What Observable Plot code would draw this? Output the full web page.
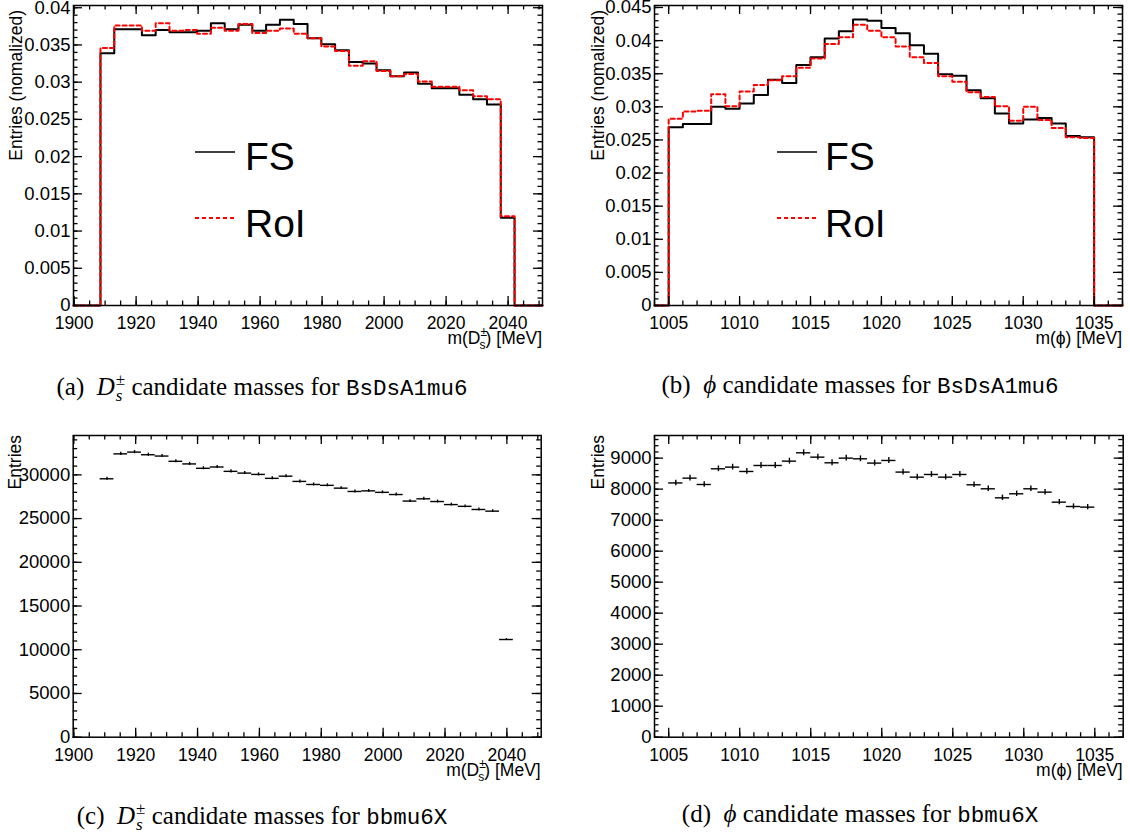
<!DOCTYPE html>
<html><head><meta charset="utf-8">
<script src="https://cdn.jsdelivr.net/npm/d3@7"></script>
<script src="https://cdn.jsdelivr.net/npm/@observablehq/plot@0.6"></script>
<style>
body{margin:0;background:#fff;}
#page{position:relative;width:1130px;height:840px;background:#fff;overflow:hidden;}
.panel{position:absolute;}
.cap{position:absolute;font-family:"Liberation Serif","Times New Roman",serif;font-size:25px;line-height:25px;white-space:nowrap;transform:translateX(-50%);color:#000;}
.mono{font-family:"Liberation Mono","DejaVu Sans Mono",monospace;font-size:22.5px;}
.ss{display:inline-block;vertical-align:-0.38em;font-size:0.68em;line-height:0.95;text-align:left;margin-left:1px;}
.ss span{display:block;}
</style></head>
<body><div id="page"></div>
<script>
// ---------------- data ----------------
const dsRange = [1899.8, 2051.1];
const dsBinLow = 1908.5;
const dsBinWidth = 4.453;
const phiRange = [1004, 1037];
const phiBinLow = 1005;
const phiBinWidth = 1;

// (a) D_s mass, normalized, BsDsA1mu6
const dsFS = [0.0339,0.0371,0.0371,0.0363,0.0370,0.0367,0.0367,0.0369,0.0379,0.0371,
              0.0377,0.0369,0.0377,0.0384,0.0378,0.0359,0.0351,0.0343,0.0327,0.0325,
              0.0316,0.0308,0.0313,0.0298,0.0292,0.0292,0.0283,0.0277,0.0270,0.0118];
const dsRoI = [0.0346,0.0376,0.0376,0.0369,0.0379,0.0369,0.0370,0.0365,0.0373,0.0369,
               0.0378,0.0366,0.0369,0.0372,0.0365,0.0359,0.0348,0.0342,0.0322,0.0328,
               0.0315,0.0308,0.0311,0.0301,0.0294,0.0294,0.0289,0.0281,0.0277,0.0120];
// (b) phi mass, normalized, BsDsA1mu6
const phiFS = [0.0269,0.0274,0.0274,0.0300,0.0297,0.0305,0.0318,0.0341,0.0336,0.0363,
               0.0375,0.0403,0.0414,0.0432,0.0430,0.0419,0.0411,0.0393,0.0380,0.0349,
               0.0347,0.0325,0.0313,0.0290,0.0275,0.0281,0.0283,0.0275,0.0256,0.0254];
const phiRoI = [0.0282,0.0293,0.0294,0.0319,0.0301,0.0323,0.0333,0.0340,0.0346,0.0359,
                0.0373,0.0395,0.0405,0.0424,0.0415,0.0405,0.0391,0.0375,0.0366,0.0346,
                0.0338,0.0322,0.0315,0.0301,0.0279,0.0300,0.0280,0.0268,0.0254,0.0253];
// (c) D_s mass, entries, bbmu6X
const dsEntries = [29550,32400,32600,32300,32150,31550,31250,30750,30900,30400,
                   30200,30050,29600,29850,29250,28900,28800,28480,28100,28170,
                   28000,27750,27000,27260,26950,26600,26400,26040,25850,11170];
// (d) phi mass, entries, bbmu6X
const phiEntries = [8200,8355,8150,8656,8710,8570,8763,8763,8903,9172,
                    9032,8850,9000,8978,8840,8925,8550,8387,8473,8387,
                    8473,8140,8011,7720,7850,8011,7903,7580,7440,7420];

// tick labels
const dsTicks = [1900,1920,1940,1960,1980,2000,2020,2040];
const phiTicks = [1005,1010,1015,1020,1025,1030,1035];
const normTicksA = [0,0.005,0.01,0.015,0.02,0.025,0.03,0.035,0.04];
const normTicksB = [0,0.005,0.01,0.015,0.02,0.025,0.03,0.035,0.04,0.045];
const dsCountTicks = [0,5000,10000,15000,20000,25000,30000];
const phiCountTicks = [0,1000,2000,3000,4000,5000,6000,7000,8000,9000];

const fontSans = '"Liberation Sans", Arial, Helvetica, sans-serif';

// ---------------- helpers ----------------
function stepPoints(lo, w, vals, dom) {
  const pts = [{x: dom[0], y: 0}];
  vals.forEach((v, i) => pts.push({x: lo + i * w, y: v}));
  pts.push({x: lo + vals.length * w, y: 0});
  pts.push({x: dom[1], y: 0});
  return pts;
}
function binRows(lo, w, vals) {
  return vals.map((v, i) => ({x1: lo + i * w, x2: lo + (i + 1) * w, xc: lo + (i + 0.5) * w, y: v, e: Math.sqrt(v)}));
}
function inRange(arr, dom) { return arr.filter(d => d >= dom[0] - 1e-9 && d <= dom[1] + 1e-9); }

function makePanel(o) {
  const fw = o.width - o.mL - o.mR, fh = o.height - o.mT - o.mB;
  const maj = 9, min = 4.5, sw = 1.3;
  const yMaj = inRange(o.yMajor, o.yDomain), yMin = inRange(o.yMinor, o.yDomain);
  const xMaj = inRange(o.xMajor, o.xDomain), xMin = inRange(o.xMinor, o.xDomain);
  const ticks = [
    Plot.tickY(yMaj, {y: d => d, insetRight: fw - maj, stroke: "black", strokeWidth: sw}),
    Plot.tickY(yMaj, {y: d => d, insetLeft: fw - maj, stroke: "black", strokeWidth: sw}),
    Plot.tickY(yMin, {y: d => d, insetRight: fw - min, stroke: "black", strokeWidth: sw}),
    Plot.tickY(yMin, {y: d => d, insetLeft: fw - min, stroke: "black", strokeWidth: sw}),
    Plot.tickX(xMaj, {x: d => d, insetTop: fh - maj, stroke: "black", strokeWidth: sw}),
    Plot.tickX(xMaj, {x: d => d, insetBottom: fh - maj, stroke: "black", strokeWidth: sw}),
    Plot.tickX(xMin, {x: d => d, insetTop: fh - min, stroke: "black", strokeWidth: sw}),
    Plot.tickX(xMin, {x: d => d, insetBottom: fh - min, stroke: "black", strokeWidth: sw})
  ];
  const fmt = d3.format("~g");
  const svg = Plot.plot({
    width: o.width, height: o.height,
    marginLeft: o.mL, marginTop: o.mT, marginRight: o.mR, marginBottom: o.mB,
    x: {domain: o.xDomain},
    y: {domain: o.yDomain},
    style: {fontFamily: fontSans, fontSize: "17px", color: "black", background: "white", overflow: "visible"},
    marks: [
      ...o.marks,
      ...ticks,
      Plot.frame({stroke: "black", strokeWidth: 1.5}),
      Plot.axisY(yMaj, {tickSize: 0, tickPadding: 3, tickFormat: fmt, label: null, fill: "black", fontSize: 18.5}),
      Plot.axisX(xMaj, {tickSize: 0, tickPadding: 11, tickFormat: d => String(d), label: null, fill: "black", fontSize: 17.5})
    ]
  });
  return svg;
}

function place(svg, left, top, w, h) {
  const div = document.createElement("div");
  div.className = "panel";
  div.style.left = left + "px"; div.style.top = top + "px";
  div.style.width = w + "px"; div.style.height = h + "px";
  div.appendChild(svg);
  document.getElementById("page").appendChild(div);
  return d3.select(svg);
}

function yTitle(sel, x, yEnd, text) {
  sel.append("text").attr("transform", `translate(${x},${yEnd}) rotate(-90)`)
    .attr("text-anchor", "end").attr("font-family", fontSans).attr("font-size", 17.5)
    .attr("fill", "black").text(text);
}
function xTitleDs(sel, xRight, yBase) {
  const t = sel.append("text").attr("x", xRight).attr("y", yBase).attr("text-anchor", "end")
    .attr("font-family", fontSans).attr("font-size", 17.5).attr("fill", "black");
  t.append("tspan").text("m(D");
  t.append("tspan").attr("font-size", 12).attr("dy", -8).text("±");
  t.append("tspan").attr("font-size", 12).attr("dx", -7.5).attr("dy", 13).text("s");
  t.append("tspan").attr("dy", -5).text(") [MeV]");
}
function xTitlePhi(sel, xRight, yBase) {
  sel.append("text").attr("x", xRight).attr("y", yBase).attr("text-anchor", "end")
    .attr("font-family", fontSans).attr("font-size", 17.5).attr("fill", "black").text("m(ϕ) [MeV]");
}
function legend(sel, x0, x1, xt) {
  sel.append("line").attr("x1", x0).attr("x2", x1).attr("y1", 152).attr("y2", 152)
    .attr("stroke", "black").attr("stroke-width", 1.5);
  sel.append("line").attr("x1", x0).attr("x2", x1).attr("y1", 218).attr("y2", 218)
    .attr("stroke", "#ff0000").attr("stroke-width", 1.8).attr("stroke-dasharray", "4,3");
  sel.append("text").attr("x", xt).attr("y", 170).attr("text-anchor", "start").attr("font-family", fontSans).attr("font-size", 39).attr("fill", "black").text("FS");
  sel.append("text").attr("x", xt).attr("y", 236.5).attr("text-anchor", "start").attr("font-family", fontSans).attr("font-size", 39).attr("fill", "black").text("RoI");
}

function histMarks(lo, w, fs, roi, dom) {
  return [
    Plot.line(stepPoints(lo, w, fs, dom), {x: "x", y: "y", curve: "step-after", stroke: "black", strokeWidth: 2}),
    Plot.line(stepPoints(lo, w, roi, dom), {x: "x", y: "y", curve: "step-after", stroke: "#ff0000", strokeWidth: 2, strokeDasharray: "4,3"})
  ];
}
function pointMarks(lo, w, vals) {
  const rows = binRows(lo, w, vals);
  return [
    Plot.ruleY(rows, {y: "y", x1: "x1", x2: "x2", stroke: "black", strokeWidth: 1.4}),
    Plot.ruleX(rows, {x: "xc", y1: d => d.y - d.e, y2: d => d.y + d.e, stroke: "black", strokeWidth: 1.4})
  ];
}

// ---------------- panels ----------------
// (a)
{
  const o = {width: 560, height: 355, mL: 73, mT: 5, mR: 18, mB: 50,
    xDomain: dsRange, yDomain: [0, 0.0403],
    xMajor: dsTicks, xMinor: d3.range(1900, 2055, 5),
    yMajor: normTicksA, yMinor: d3.range(0, 0.0405, 0.001),
    marks: histMarks(dsBinLow, dsBinWidth, dsFS, dsRoI, dsRange)};
  const sel = place(makePanel(o), 0, 0, o.width, o.height);
  yTitle(sel, 22, 10, "Entries (nomalized)");
  xTitleDs(sel, 542, 344);
  legend(sel, 195, 235, 245);
}
// (b)
{
  const o = {width: 565, height: 355, mL: 89, mT: 5, mR: 8, mB: 50,
    xDomain: phiRange, yDomain: [0, 0.0453],
    xMajor: phiTicks, xMinor: d3.range(1004, 1038, 1),
    yMajor: normTicksB, yMinor: d3.range(0, 0.0455, 0.001),
    marks: histMarks(phiBinLow, phiBinWidth, phiFS, phiRoI, phiRange)};
  const sel = place(makePanel(o), 565, 0, o.width, o.height);
  yTitle(sel, 604 - 565, 10, "Entries (nomalized)");
  xTitlePhi(sel, 1122 - 565, 344);
  legend(sel, 777 - 565, 817 - 565, 825 - 565);
}
// (c)
{
  const o = {width: 560, height: 370, mL: 72.7, mT: 15, mR: 19.3, mB: 53.3,
    xDomain: dsRange, yDomain: [0, 34500],
    xMajor: dsTicks, xMinor: d3.range(1900, 2055, 5),
    yMajor: dsCountTicks, yMinor: d3.range(0, 34500, 1000),
    marks: pointMarks(dsBinLow, dsBinWidth, dsEntries)};
  const sel = place(makePanel(o), 0, 420, o.width, o.height);
  yTitle(sel, 21, 15, "Entries");
  xTitleDs(sel, 540.7, 355.7);
}
// (d)
{
  const o = {width: 565, height: 370, mL: 89, mT: 15, mR: 7.3, mB: 53.3,
    xDomain: phiRange, yDomain: [0, 9730],
    xMajor: phiTicks, xMinor: d3.range(1004, 1038, 1),
    yMajor: phiCountTicks, yMinor: d3.range(0, 9730, 200),
    marks: pointMarks(phiBinLow, phiBinWidth, phiEntries)};
  const sel = place(makePanel(o), 565, 420, o.width, o.height);
  yTitle(sel, 604 - 565, 15, "Entries");
  xTitlePhi(sel, 1122.7 - 565, 355.7);
}

// ---------------- captions ----------------
const captions = [
  {x: 262, y: 372, label: "(a)", sym: "ds", sample: "BsDsA1mu6"},
  {x: 860, y: 372, label: "(b)", sym: "phi", sample: "BsDsA1mu6"},
  {x: 262, y: 801, label: "(c)", sym: "ds", sample: "bbmu6X"},
  {x: 860, y: 801, label: "(d)", sym: "phi", sample: "bbmu6X"}
];
for (const c of captions) {
  const div = document.createElement("div");
  div.className = "cap";
  div.style.left = c.x + "px"; div.style.top = c.y + "px";
  const sym = c.sym === "ds"
    ? '<i>D</i><span class="ss"><span>±</span><span><i>s</i></span></span>'
    : '<i>ϕ</i>';
  div.innerHTML = `${c.label}&nbsp; ${sym} candidate masses for <span class="mono">${c.sample}</span>`;
  document.getElementById("page").appendChild(div);
}
</script>
</body></html>
